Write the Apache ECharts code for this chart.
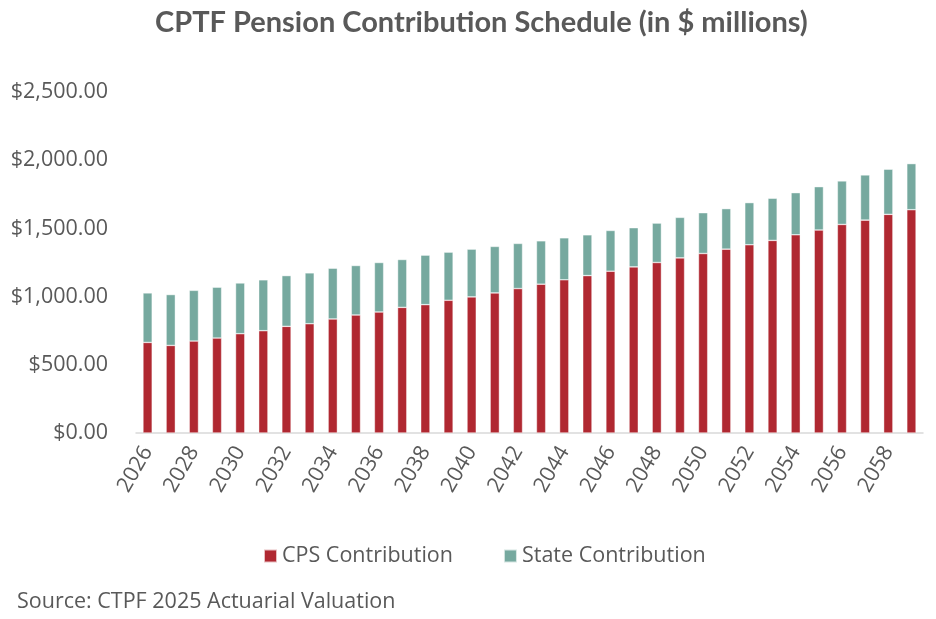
<!DOCTYPE html>
<html>
<head>
<meta charset="utf-8">
<script src="https://cdn.jsdelivr.net/npm/echarts@6/dist/echarts.min.js"></script>
</head>
<body style="margin:0;background:#fff">
<div id="main" style="width: 936px;height:619px;"></div>

<script type="text/javascript">
// contribution schedule, $ millions
var years = ['2026','2027','2028','2029','2030','2031','2032','2033','2034','2035',
    '2036','2037','2038','2039','2040','2041','2042','2043','2044','2045',
    '2046','2047','2048','2049','2050','2051','2052','2053','2054','2055',
    '2056','2057','2058','2059'];
var cpsContribution = [664, 642, 674, 696, 728, 750, 782, 801, 836, 865,
    887, 921, 941, 973, 998, 1027, 1059, 1091, 1123, 1154,
    1186, 1218, 1250, 1284, 1316, 1348, 1380, 1412, 1453, 1488,
    1529, 1561, 1603, 1637];
var stateContribution = [363, 373, 372, 373, 372, 373, 372, 373, 372, 363,
    363, 351, 363, 353, 350, 341, 331, 318, 308, 299,
    299, 287, 289, 297, 299, 297, 309, 309, 309, 318,
    319, 331, 331, 338];

var textColor = '#595959';
var bodyFont = '"Open Sans", sans-serif';

var option = {
    animation: false,
    title: {
        text: 'CPTF Pension Contribution Schedule (in $ millions)',
        left: 150,
        top: 3,
        textStyle: {
            fontFamily: 'Lato',
            fontWeight: 'bold',
            fontSize: 29,
            color: textColor
        }
    },
    legend: {
        left: 258,
        top: 540,
        itemWidth: 13,
        itemHeight: 13,
        itemGap: 50,
        icon: 'rect',
        textStyle: {
            fontFamily: bodyFont,
            fontSize: 21.5,
            color: textColor
        }
    },
    grid: {
        left: 136,
        right: 13,
        top: 92,
        bottom: 186
    },
    xAxis: {
        type: 'category',
        data: years,
        axisTick: { show: false },
        axisLine: { lineStyle: { color: '#d9d9d9', width: 1.5 } },
        axisLabel: {
            interval: 1,
            rotate: 60,
            margin: 15,
            fontFamily: bodyFont,
            fontSize: 21.5,
            color: textColor
        }
    },
    yAxis: {
        type: 'value',
        min: 0,
        max: 2500,
        interval: 500,
        splitLine: { show: false },
        axisLine: { show: false },
        axisTick: { show: false },
        axisLabel: {
            margin: 28,
            fontFamily: bodyFont,
            fontSize: 21.5,
            color: textColor,
            formatter: function (v) {
                return '$' + v.toLocaleString('en-US', { minimumFractionDigits: 2, maximumFractionDigits: 2 });
            }
        }
    },
    series: [{
        name: 'CPS Contribution',
        type: 'bar',
        stack: 'total',
        barCategoryGap: '60%',
        itemStyle: { color: '#B02831', borderColor: 'rgba(255,255,255,0.7)', borderWidth: 0.6 },
        data: cpsContribution
    }, {
        name: 'State Contribution',
        type: 'bar',
        stack: 'total',
        itemStyle: { color: '#76A99F', borderColor: 'rgba(255,255,255,0.7)', borderWidth: 0.6 },
        data: stateContribution
    }],
    graphic: [{
        type: 'text',
        left: 17,
        top: 591,
        style: {
            text: 'Source: CTPF 2025 Actuarial Valuation',
            fontFamily: bodyFont,
            fontSize: 21.5,
            fill: textColor
        }
    }]
};

var myChart = echarts.init(document.getElementById('main'));
myChart.setOption(option);
</script>
</body>
</html>
